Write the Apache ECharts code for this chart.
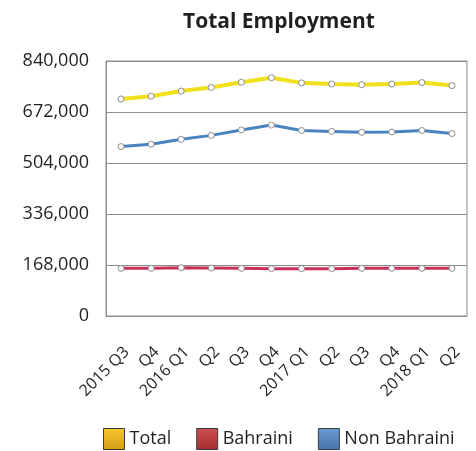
<!DOCTYPE html>
<html>
<head>
<meta charset="utf-8">
<script src="https://cdn.jsdelivr.net/npm/echarts@6/dist/echarts.min.js"></script>
<style>
  html, body { margin: 0; padding: 0; background: #fff; }
  #main { width: 476px; height: 451px; }
</style>
</head>
<body>
<div id="main"></div>
<script>
const quarters = ['2015 Q3', 'Q4', '2016 Q1', 'Q2', 'Q3', 'Q4', '2017 Q1', 'Q2', 'Q3', 'Q4', '2018 Q1', 'Q2']
const totalList = [715000, 724000, 741000, 753000, 770000, 785000, 768000, 764000, 762000, 764000, 769000, 759000]
const bahrainiList = [157000, 157000, 159000, 158000, 157000, 156000, 156000, 156000, 157000, 157000, 157000, 157000]
const nonBahrainiList = [558000, 566000, 582000, 595000, 613000, 629000, 611000, 608000, 605000, 606000, 611000, 601000]
const yTicks = [0, 168000, 336000, 504000, 672000, 840000]

const fontName = '"Open Sans", "Noto Sans", sans-serif'
const myChart = echarts.init(document.getElementById('main'))

function swatch(top, bottom) {
  return {
    color: new echarts.graphic.LinearGradient(0, 0, 0, 1, [
      { offset: 0, color: top },
      { offset: 1, color: bottom },
    ]),
    borderColor: '#3a3a3a',
    borderWidth: 1,
  }
}

function lineSeries(name, data, color, width) {
  return {
    name: name,
    type: 'line',
    data: data,
    symbol: 'circle',
    symbolSize: 6,
    showSymbol: true,
    lineStyle: { color: color, width: width },
    itemStyle: { color: '#fff', borderColor: '#8c8c8c', borderWidth: 1 },
    emphasis: { disabled: true },
  }
}

const option = {
  animation: false,
  textStyle: { fontFamily: fontName },
  title: {
    text: 'Total Employment',
    left: 183,
    top: 12,
    padding: 0,
    textStyle: { fontSize: 21, fontWeight: 'bold', color: '#231f20', fontFamily: fontName },
  },
  legend: {
    top: 423,
    left: 98,
    itemWidth: 21,
    itemHeight: 21,
    itemGap: 25,
    icon: 'rect',
    textStyle: { fontSize: 18, color: '#231f20', fontFamily: fontName },
    data: [
      { name: 'Total', itemStyle: swatch('#f8c92c', '#d49c18') },
      { name: 'Bahraini', itemStyle: swatch('#cf5050', '#a32e30') },
      { name: 'Non Bahraini', itemStyle: swatch('#6c9dd3', '#4673ab') },
    ],
  },
  grid: {
    left: 106,
    right: 9,
    top: 61,
    bottom: 135,
    show: true,
    borderColor: '#8c8c8c',
    borderWidth: 1,
  },
  xAxis: {
    type: 'category',
    boundaryGap: true,
    data: quarters,
    axisLine: { lineStyle: { color: '#8c8c8c' } },
    axisTick: { show: false },
    axisLabel: {
      rotate: 45,
      fontSize: 16,
      color: '#231f20',
      margin: 28,
      interval: 0,
      verticalAlign: 'top',
      fontFamily: fontName,
    },
  },
  yAxis: {
    type: 'value',
    min: yTicks[0],
    max: yTicks[yTicks.length - 1],
    interval: yTicks[1] - yTicks[0],
    axisLine: { show: true, lineStyle: { color: '#8c8c8c' } },
    axisTick: { show: false },
    axisLabel: {
      fontSize: 18,
      color: '#231f20',
      margin: 17,
      fontFamily: fontName,
      formatter: v => v.toLocaleString('en-US'),
    },
    splitLine: { lineStyle: { color: '#8c8c8c', width: 1 } },
  },
  series: [
    lineSeries('Total', totalList, '#f1e11c', 4),
    lineSeries('Bahraini', bahrainiList, '#c8305a', 3),
    lineSeries('Non Bahraini', nonBahrainiList, '#4a83c1', 3),
  ],
}

option && myChart.setOption(option)
</script>
</body>
</html>
